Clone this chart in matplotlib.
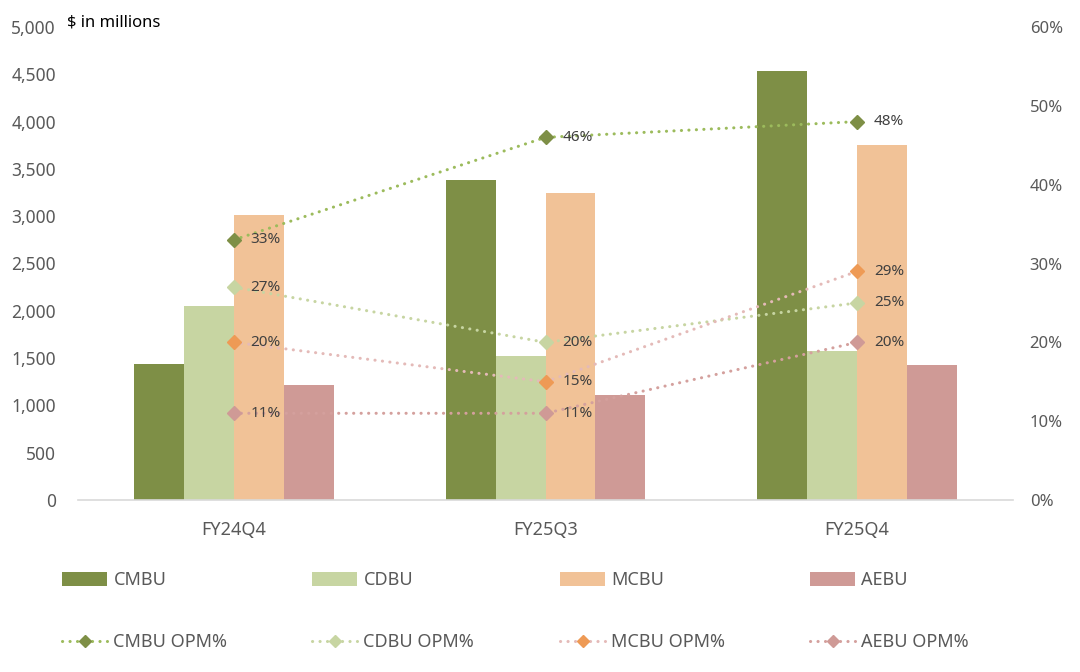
import numpy as np
import matplotlib
matplotlib.use("Agg")
import matplotlib.pyplot as plt
from matplotlib.lines import Line2D
from matplotlib.patches import Patch
from matplotlib.ticker import FuncFormatter

plt.rcParams['font.family'] = ['Noto Sans', 'DejaVu Sans']

### Data
quarters = ['FY24Q4', 'FY25Q3', 'FY25Q4']
units = ['CMBU', 'CDBU', 'MCBU', 'AEBU']
cmbu = [1440, 3380, 4540]
cdbu = [2050, 1520, 1570]
mcbu = [3010, 3250, 3750]
aebu = [1220, 1110, 1430]
cmbu_opm = [33, 46, 48]
cdbu_opm = [27, 20, 25]
mcbu_opm = [20, 15, 29]
aebu_opm = [11, 11, 20]

bar_colors = ['#7E8F46', '#C7D5A2', '#F1C297', '#CF9A96']
line_colors = ['#9CBB5C', '#C7D5A2', '#E4BAB8', '#D4A09D']
marker_colors = ['#7E8F46', '#C7D5A2', '#EE9A55', '#CF9A96']
text_grey = '#595959'

fig = plt.figure(figsize=(10.8, 6.72), dpi=100)
ax = fig.add_axes([78 / 1080, 1 - 500 / 672, 935 / 1080, 473 / 672])

x = np.arange(len(quarters))
w = 0.16
bars = [cmbu, cdbu, mcbu, aebu]
for i, vals in enumerate(bars):
    ax.bar(x + (i - 1.5) * w, vals, width=w, color=bar_colors[i], zorder=2)

ax.set_xlim(-0.5, 2.5)
ax.set_ylim(0, 5000)
ax.set_yticks(np.arange(0, 5001, 500))
ax.yaxis.set_major_formatter(FuncFormatter(lambda v, p: f'{int(v):,}'))
ax.set_xticks(x)
ax.set_xticklabels(quarters)
ax.tick_params(axis='y', length=0, pad=16, labelsize=12.5, labelcolor=text_grey)
ax.tick_params(axis='x', length=0, pad=15, labelsize=13, labelcolor=text_grey)
for s in ['top', 'left', 'right']:
    ax.spines[s].set_visible(False)
ax.spines['bottom'].set_color('#D9D9D9')
ax.spines['bottom'].set_linewidth(1.2)

### OPM lines on right axis
ax2 = ax.twinx()
ax2.set_ylim(0, 60)
ax2.set_yticks(np.arange(0, 61, 10))
ax2.yaxis.set_major_formatter(FuncFormatter(lambda v, p: f'{int(v)}%'))
ax2.tick_params(axis='y', length=0, pad=12, labelsize=12, labelcolor=text_grey)
for s in ['top', 'left', 'right', 'bottom']:
    ax2.spines[s].set_visible(False)

opms = [cmbu_opm, cdbu_opm, mcbu_opm, aebu_opm]
for i, vals in enumerate(opms):
    ax2.plot(x, vals, color=line_colors[i], lw=2.2, ls=(0, (0.05, 2.4)),
             dash_capstyle='round', marker='D', ms=7.5,
             mfc=marker_colors[i], mec=marker_colors[i], zorder=3)
    for xi, v in zip(x, vals):
        ax2.annotate(f'{v}%', (xi, v), xytext=(12, 0), textcoords='offset points',
                     va='center', ha='left', fontsize=11, color='#404040')

fig.text(67 / 1080, 1 - 22 / 672, '$ in millions', fontsize=12, color='black',
         va='center', ha='left')

### Legend, one block per column
col_x = [62, 312, 560, 810]
for i, name in enumerate(units):
    h_bar = Patch(facecolor=bar_colors[i], edgecolor='none')
    h_line = Line2D([], [], color=line_colors[i], lw=2.2, ls=(0, (0.05, 2.4)),
                    dash_capstyle='round', marker='D', ms=6.5,
                    mfc=marker_colors[i], mec=marker_colors[i])
    fig.legend([h_bar, h_line], [name, name + ' OPM%'], loc='upper left',
               bbox_to_anchor=(col_x[i] / 1080, 1 - 571 / 672), frameon=False,
               fontsize=13, labelcolor=text_grey, handlelength=2.5,
               handleheight=0.8, handletextpad=0.35, labelspacing=2.45,
               borderpad=0, borderaxespad=0)

fig.savefig('out.png', dpi=100)
